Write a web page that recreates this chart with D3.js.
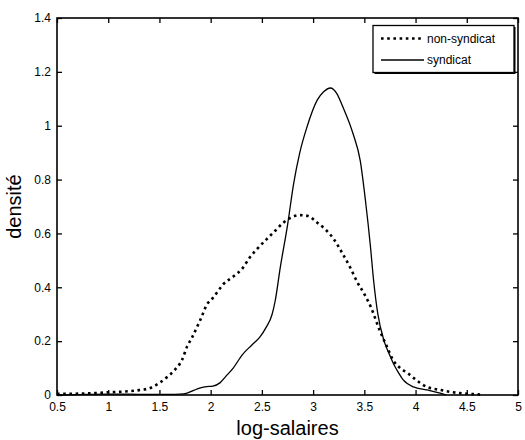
<!DOCTYPE html>
<html><head><meta charset="utf-8">
<script src="https://cdn.jsdelivr.net/npm/d3@7/dist/d3.min.js"></script>
<style>body{margin:0;background:#fff}svg{display:block}text{font-family:"Liberation Sans",Arial,sans-serif}</style>
</head><body><svg id="c" width="525" height="440"></svg>
<script>
const xTicks = [0.5,1,1.5,2,2.5,3,3.5,4,4.5,5];
const yTicks = [0,0.2,0.4,0.6,0.8,1,1.2,1.4];
const seriesNames = ["non-syndicat","syndicat"];
const nonX = [0.5,0.8,1.0,1.2,1.3,1.41,1.5,1.58,1.65,1.72,1.77,1.82,1.9,1.97,2.02,2.06,2.12,2.22,2.31,2.38,2.46,2.55,2.63,2.71,2.79,2.87,2.95,3.04,3.12,3.2,3.28,3.36,3.43,3.5,3.56,3.65,3.72,3.78,3.85,3.92,4.0,4.11,4.24,4.35,4.43,4.53,4.63];
const nonY = [0.004,0.006,0.01,0.014,0.018,0.026,0.045,0.068,0.093,0.13,0.18,0.215,0.28,0.34,0.36,0.38,0.41,0.44,0.47,0.51,0.545,0.58,0.61,0.64,0.66,0.668,0.665,0.64,0.615,0.58,0.53,0.475,0.42,0.375,0.33,0.24,0.18,0.13,0.1,0.082,0.058,0.03,0.019,0.011,0.007,0.004,0.002];
const synX = [0.5,0.8,1.0,1.2,1.4,1.6,1.7,1.77,1.84,1.9,1.96,2.02,2.09,2.15,2.22,2.31,2.4,2.48,2.54,2.6,2.63,2.68,2.75,2.81,2.87,2.94,3.04,3.1,3.17,3.23,3.29,3.39,3.46,3.51,3.56,3.59,3.63,3.69,3.74,3.78,3.83,3.88,3.98,4.11,4.24,4.3];
const synY = [0.0,0.002,0.003,0.003,0.002,0.002,0.003,0.007,0.018,0.026,0.031,0.033,0.045,0.07,0.1,0.15,0.185,0.215,0.25,0.3,0.35,0.475,0.63,0.785,0.9,0.995,1.095,1.125,1.14,1.12,1.07,0.97,0.87,0.725,0.55,0.427,0.305,0.204,0.155,0.12,0.085,0.056,0.03,0.019,0.007,0.0];

const svg = d3.select("#c");
const L=57, R=518, T=18, B=395;
const x = d3.scaleLinear().domain([0.5,5]).range([L,R]);
const y = d3.scaleLinear().domain([0,1.4]).range([B,T]);
const g = svg.append("g");

const line = d3.line().x(d=>x(d[0])).y(d=>y(d[1])).curve(d3.curveMonotoneX);
const nonData = nonX.map((v,i)=>[v,nonY[i]]);
const synData = synX.map((v,i)=>[v,synY[i]]);

g.append("path").datum(synData).attr("d",line).attr("fill","none").attr("stroke","#000").attr("stroke-width",1.3);
g.append("path").datum(nonData).attr("d",line).attr("fill","none").attr("stroke","#000").attr("stroke-width",2.6).attr("stroke-dasharray","2.6,3.6");

// axes
const fmt = d=>String(d);
const bx = g.append("g").attr("transform",`translate(0,${B})`).call(d3.axisBottom(x).tickValues(xTicks).tickFormat(fmt).tickSizeInner(-5).tickSizeOuter(0).tickPadding(7));
const tx = g.append("g").attr("transform",`translate(0,${T})`).call(d3.axisTop(x).tickValues(xTicks).tickFormat("").tickSizeInner(-5).tickSizeOuter(0));
const ly = g.append("g").attr("transform",`translate(${L},0)`).call(d3.axisLeft(y).tickValues(yTicks).tickFormat(fmt).tickSizeInner(-5).tickSizeOuter(0).tickPadding(6));
const ry = g.append("g").attr("transform",`translate(${R},0)`).call(d3.axisRight(y).tickValues(yTicks).tickFormat("").tickSizeInner(-5).tickSizeOuter(0));
[bx,tx,ly,ry].forEach(a=>{
  a.select(".domain").remove();
  a.selectAll(".tick line").attr("stroke","#000").attr("stroke-width",1.3);
  a.selectAll("text").attr("font-size",12).attr("fill","#000").attr("font-family","Liberation Sans, Arial, sans-serif");
});
g.append("rect").attr("x",L).attr("y",T).attr("width",R-L).attr("height",B-T).attr("fill","none").attr("stroke","#000").attr("stroke-width",1.6);

// axis labels
svg.append("text").attr("x",(L+R)/2).attr("y",435).attr("text-anchor","middle").attr("font-size",20).text("log-salaires");
svg.append("text").attr("transform",`translate(21,${(T+B)/2}) rotate(-90)`).attr("text-anchor","middle").attr("font-size",20).text("densité");

// legend
const lg = svg.append("g");
lg.append("rect").attr("x",374.5).attr("y",27).attr("width",141).attr("height",47).attr("fill","#000");
lg.append("rect").attr("x",373).attr("y",25.5).attr("width",141).attr("height",47).attr("fill","#fff").attr("stroke","#000").attr("stroke-width",1.3);
const rows=[{name:seriesNames[0],dash:"2.6,3.6",w:2.6,yy:38.5},{name:seriesNames[1],dash:null,w:1.3,yy:60}];
rows.forEach(r=>{
  lg.append("line").attr("x1",381).attr("x2",424).attr("y1",r.yy).attr("y2",r.yy).attr("stroke","#000").attr("stroke-width",r.w).attr("stroke-dasharray",r.dash);
  lg.append("text").attr("x",427).attr("y",r.yy+4.3).attr("font-size",12).text(r.name);
});
</script></body></html>
